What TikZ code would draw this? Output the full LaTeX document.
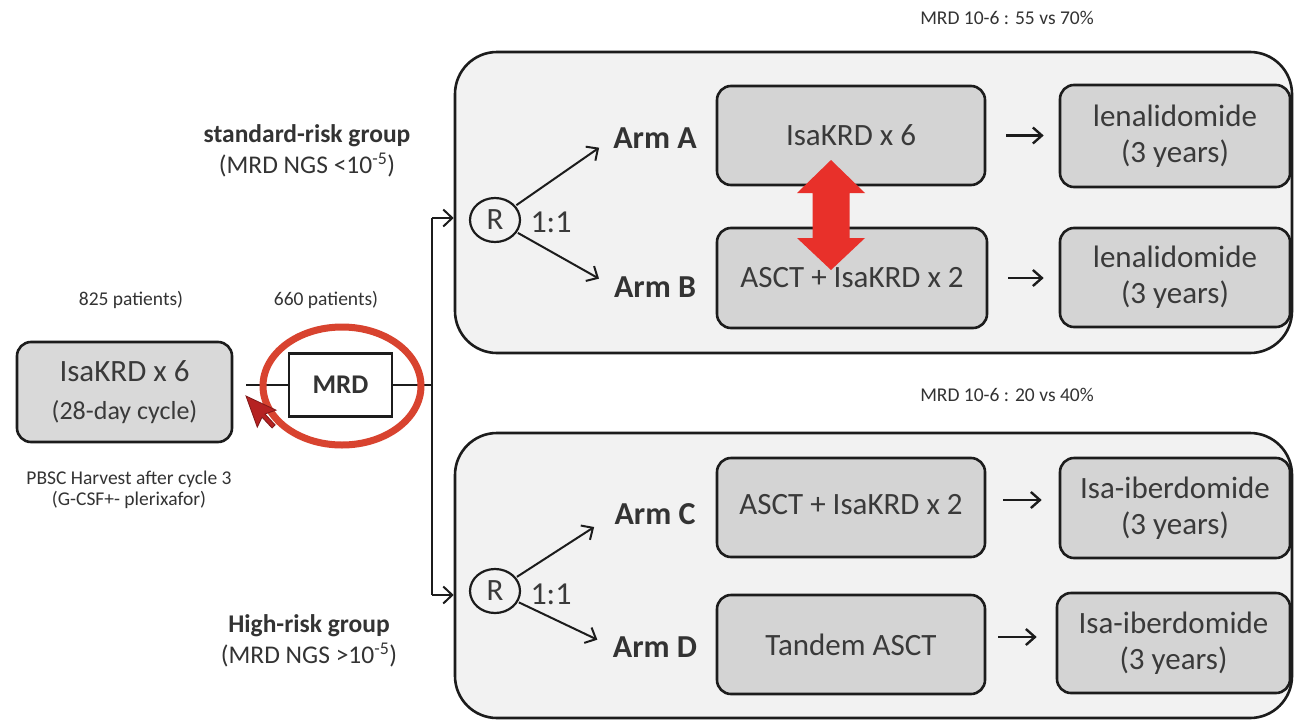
\documentclass[tikz,border=0pt]{standalone}
\usepackage{fontspec}
\setmainfont{Carlito}
\usetikzlibrary{shapes.geometric,arrows.meta}

\definecolor{panelfill}{HTML}{F2F2F2}
\definecolor{boxfill}{HTML}{D4D4D4}
\definecolor{leftfill}{HTML}{D9D9D9}
\definecolor{edge}{HTML}{1C1C1C}
\definecolor{txt}{HTML}{3A3A3A}
\definecolor{note}{HTML}{333333}
\definecolor{hilite}{HTML}{D8432F}
\definecolor{bigred}{HTML}{E8302A}
\definecolor{cursorred}{HTML}{B52222}

\newcommand{\fsz}[2]{\fontsize{#1}{#2}\selectfont}

\tikzset{
  panel/.style={draw=edge, line width=2.6pt, rounded corners=42pt, fill=panelfill, inner sep=0pt},
  treat/.style={draw=edge, line width=2.6pt, rounded corners=14pt, fill=boxfill, text=txt,
                align=center, inner sep=0pt, font=\fsz{31}{36}},
  armlabel/.style={font=\fsz{32}{36}\bfseries, text=note, inner sep=0pt},
  grouplabel/.style={align=center, text=note, inner sep=0pt, font=\fsz{25.5}{31}},
  smallnote/.style={align=center, text=note, inner sep=0pt, font=\fsz{19.5}{21}},
  randnode/.style={ellipse, draw=edge, line width=2.2pt, minimum width=50pt, minimum height=44pt,
                   inner sep=0pt, text=txt, font=\fsz{31}{32}},
  ratio/.style={text=txt, inner sep=0pt, font=\fsz{32}{34}},
  flow/.style={draw=edge, line width=2pt, -{Straight Barb[length=9pt,width=17pt,line width=2pt]}},
  nextstep/.style={draw=edge, line width=2.4pt, -{Straight Barb[length=9pt,width=16pt,line width=2.4pt]}},
  plain/.style={draw=edge, line width=1.8pt}
}

\begin{document}
\begin{tikzpicture}[x=1pt,y=-1pt]
\useasboundingbox[fill=white] (0,0) rectangle (1295,723);

% ---- the two randomisation panels
\node[panel, minimum width=837pt, minimum height=301pt] (topP) at (873.5,202.5) {};
\node[panel, minimum width=837pt, minimum height=285pt] (botP) at (873.5,575.5) {};

% ---- induction and MRD assessment
\node[draw=edge, line width=2.6pt, rounded corners=14pt, fill=leftfill, text=txt, align=center,
      inner sep=0pt, minimum width=215pt, minimum height=100pt, font=\fsz{31}{38}]
  (induct) at (124.5,392) {IsaKRD x 6\\{\fsz{26}{38}(28-day cycle)}};
\node[draw=edge, line width=2.2pt, fill=white, minimum width=103pt, minimum height=63pt,
      inner sep=0pt, font=\fsz{27}{30}\bfseries, text=note] (mrd) at (340.5,385) {MRD};

\node[smallnote] (n825) at (131,300) {825 patients)};
\node[smallnote] (n660) at (326,300) {660 patients)};
\node[smallnote] (pbsc) at (129,490) {PBSC Harvest after cycle 3\\(G-CSF+- plerixafor)};

% ---- risk groups
\node[grouplabel] (stdrisk) at (307,151) {\textbf{standard-risk group}\\(MRD NGS <10\textsuperscript{-5})};
\node[grouplabel] (highrisk) at (309,641) {\textbf{High-risk group}\\(MRD NGS >10\textsuperscript{-5})};

% ---- response rates
\node[smallnote] (rateA) at (1007,18) {MRD 10-6 : 55 vs 70\%};
\node[smallnote] (rateB) at (1007,395) {MRD 10-6 : 20 vs 40\%};

% ---- trunk from MRD to both panels
\coordinate (jA) at (432,218);
\coordinate (jB) at (432,595);
\draw[plain, shorten <=13pt] (induct.east |- mrd.west) -- (mrd.west);
\draw[plain] (mrd.east) -- (mrd.east -| jA);
\draw[plain] (jA) -- (jB);
\draw[flow] (jA) -- (jA -| topP.west);
\draw[flow] (jB) -- (jB -| botP.west);

% ---- standard-risk panel
\node[randnode] (rA) at (495,220) {R};
\node[ratio] (ratioA) at (551,222) {1:1};
\node[armlabel] (armA) at (655,138) {Arm A};
\node[armlabel] (armB) at (655,287) {Arm B};
\draw[flow, shorten >=17pt, shorten <=1pt] (rA) -- (armA.west);
\draw[flow, shorten >=17pt, shorten <=1pt] (rA) -- (armB.west);

\node[treat, minimum width=268pt, minimum height=99pt] (a1) at (851,135.5) {IsaKRD x 6};
\node[treat, minimum width=270pt, minimum height=100pt] (b1) at (852,278) {ASCT + IsaKRD x 2};
\node[treat, minimum width=230pt, minimum height=102pt] (a2) at (1175,136) {lenalidomide\\(3 years)};
\node[treat, minimum width=230pt, minimum height=99pt] (b2) at (1175,277.5) {lenalidomide\\(3 years)};
\draw[nextstep, shorten <=20pt, shorten >=15pt] (a1.east) -- (a1.east -| a2.west);
\draw[nextstep, shorten <=20pt, shorten >=15pt] (b1.east) -- (b1.east -| b2.west);

% ---- high-risk panel
\node[randnode] (rB) at (495,591) {R};
\node[ratio] (ratioB) at (551,594) {1:1};
\node[armlabel] (armC) at (655,514) {Arm C};
\node[armlabel] (armD) at (655,647) {Arm D};
\draw[flow, shorten >=24pt, shorten <=1pt] (rB) -- (armC.west);
\draw[flow, shorten >=17pt, shorten <=1pt] (rB) -- (armD.west);

\node[treat, minimum width=268pt, minimum height=99pt] (c1) at (851,507.5) {\raisebox{7pt}{ASCT + IsaKRD x 2}};
\node[treat, minimum width=268pt, minimum height=99pt] (d1) at (851,644.5) {Tandem ASCT};
\node[treat, minimum width=230pt, minimum height=100pt] (c2) at (1175,508) {Isa-iberdomide\\(3 years)};
\node[treat, minimum width=233pt, minimum height=100pt] (d2) at (1173.5,643) {Isa-iberdomide\\(3 years)};
\draw[nextstep, shorten <=17pt, shorten >=17pt] (c1.east |- 0,500) -- (c2.west |- 0,500);
\draw[nextstep, shorten <=12pt, shorten >=19pt] (d1.east |- 0,637) -- (d2.west |- 0,637);

% ---- comparison marker between arms A and B
\fill[bigred] (831,160) -- (865,193) -- (849.5,193) -- (849.5,238) -- (865,238) -- (831,270)
  -- (797,238) -- (812.5,238) -- (812.5,193) -- (797,193) -- cycle;

% ---- highlight around the MRD step
\draw[hilite, line width=7pt] (342,386) ellipse [x radius=79pt, y radius=59pt];

% ---- pointer
\fill[cursorred, draw=cursorred!70!black, line width=0.8pt]
  (246,396) -- ++(11.3,31.2) -- ++(4.7,-10.0) -- ++(10.1,10.8) -- ++(3.0,-3.1)
  -- ++(-10.1,-10.9) -- ++(11.0,-3.9) -- cycle;
\end{tikzpicture}
\end{document}
